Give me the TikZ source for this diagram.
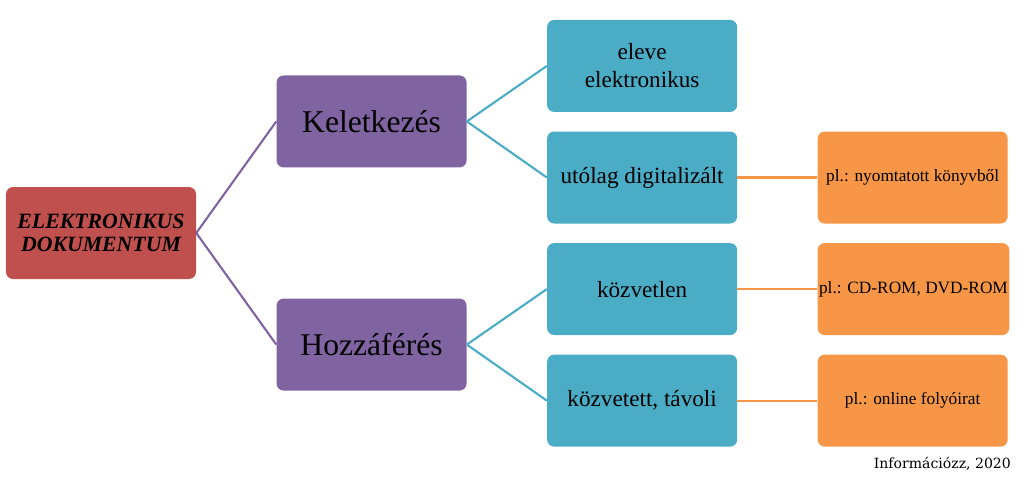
\documentclass[tikz,border=0pt]{standalone}
\usepackage{fontspec}
\setmainfont{Liberation Serif}
\newfontfamily\forrasfont{DejaVu Serif}
\usetikzlibrary{positioning}

\definecolor{piros}{HTML}{C0504D}
\definecolor{lila}{HTML}{8064A2}
\definecolor{turkiz}{HTML}{4BACC6}
\definecolor{narancs}{HTML}{F79646}

\begin{document}
\begin{tikzpicture}[
    node distance=0.475cm and 2cm,
    every node/.style={text=black},
    box/.style={rounded corners=5pt, minimum width=4.75cm, minimum height=2.3cm, align=center, inner sep=1pt},
    gyoker/.style={box, fill=piros, font=\fontsize{15.5}{16.5}\selectfont\bfseries\itshape},
    agbox/.style={box, fill=lila, font=\fontsize{22.5}{26}\selectfont},
    levelbox/.style={box, fill=turkiz, font=\fontsize{16.5}{20}\selectfont},
    peldabox/.style={box, fill=narancs, font=\fontsize{12.3}{15}\selectfont},
    vonal/.style={line width=1.5pt}
]

\useasboundingbox (0,0) rectangle (25.6,-12);

% bal oldali csomópont
\node[gyoker] (dok) at (2.525,-5.825) {ELEKTRONIKUS\\DOKUMENTUM};

% ágak
\node[agbox, above right=of dok] (kel) {Keletkezés};
\node[agbox, below right=of dok] (hoz) {Hozzáférés};

% jobb oldali csomópontok
\node[levelbox, right=2cm of kel, yshift=1.3875cm] (eleve) {eleve\\elektronikus};
\node[levelbox, below=of eleve] (utolag) {utólag digitalizált};
\node[levelbox, below=of utolag] (kozv) {közvetlen};
\node[levelbox, below=of kozv] (tavoli) {közvetett, távoli};

% példák
\node[peldabox, right=2cm of utolag] (konyv) {pl.: nyomtatott könyvből};
\node[peldabox, right=2cm of kozv] (cdrom) {pl.: CD-ROM, DVD-ROM};
\node[peldabox, right=2cm of tavoli] (online) {pl.: online folyóirat};

% forrás
\node[anchor=north east, font=\forrasfont\fontsize{10}{12}\selectfont, inner sep=0pt] (forras) at ([xshift=0.08cm, yshift=-0.26cm]online.south east) {Információzz, 2020};

% vonalak
\draw[vonal, lila] (dok.east) -- (kel.west);
\draw[vonal, lila] (dok.east) -- (hoz.west);
\draw[vonal, turkiz] (kel.east) -- (eleve.west);
\draw[vonal, turkiz] (kel.east) -- (utolag.west);
\draw[vonal, turkiz] (hoz.east) -- (kozv.west);
\draw[vonal, turkiz] (hoz.east) -- (tavoli.west);
\draw[vonal, narancs] (utolag.east) -- (konyv.west);
\draw[vonal, narancs] (kozv.east) -- (cdrom.west);
\draw[vonal, narancs] (tavoli.east) -- (online.west);

\end{tikzpicture}
\end{document}
